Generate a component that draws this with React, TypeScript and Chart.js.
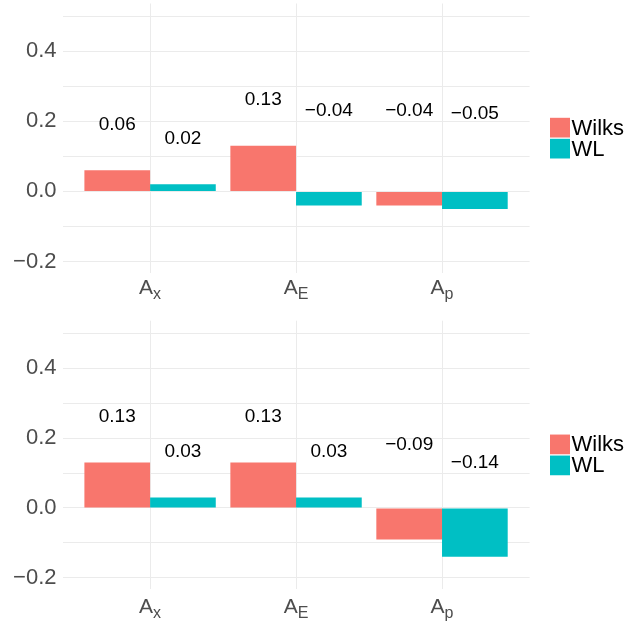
import React, { useEffect, useRef } from 'react';
import { Chart, registerables } from 'chart.js';

Chart.register(...registerables);

// ---- data ----
const categoryMain = ['A', 'A', 'A'];
const categorySubs = ['x', 'E', 'p'];
const seriesNames = ['Wilks', 'WL'];
const seriesColors = ['#F8766D', '#00BFC4'];
const topWilks = [0.06, 0.13, -0.04];
const topWL = [0.02, -0.04, -0.05];
const bottomWilks = [0.13, 0.13, -0.09];
const bottomWL = [0.03, 0.03, -0.14];
const yTicks = [-0.2, -0.1, 0, 0.1, 0.2, 0.3, 0.4, 0.5];
const yLabeled = [-0.2, 0, 0.2, 0.4];

const FONT = '"Liberation Sans", Arial, Helvetica, sans-serif';
const fmt = (v: number, d: number) => {
  if (Math.abs(v) < 1e-9) return (0).toFixed(d);
  const s = Math.abs(v).toFixed(d);
  return v < 0 ? '\u2212' + s : s;
};

type PanelProps = {
  wilks: number[];
  wl: number[];
  height: number;
  padTop: number;
  axisHeight: number;
  labelOffset: number;
};

function Panel({ wilks, wl, height, padTop, axisHeight, labelOffset }: PanelProps) {
  const ref = useRef<HTMLCanvasElement | null>(null);
  useEffect(() => {
    if (!ref.current) return;
    const overlay = {
      id: 'overlay',
      afterDatasetsDraw(chart: any) {
        const ctx = chart.ctx as CanvasRenderingContext2D;
        const ys = chart.scales.y;
        const xs = chart.scales.x;
        const area = chart.chartArea;
        ctx.save();
        // value labels
        ctx.fillStyle = '#000000';
        ctx.font = `19px ${FONT}`;
        ctx.textAlign = 'center';
        ctx.textBaseline = 'middle';
        chart.data.datasets.forEach((ds: any, di: number) => {
          const meta = chart.getDatasetMeta(di);
          ds.data.forEach((pt: any, i: number) => {
            const v = pt.y;
            const el = meta.data[i];
            const ly = ys.getPixelForValue(v + (v >= 0 ? 0.13 : 0.27));
            ctx.fillText(fmt(v, 2), el.x, ly);
          });
        });
        // category labels with subscripts
        ctx.fillStyle = '#4D4D4D';
        ctx.textAlign = 'left';
        ctx.textBaseline = 'alphabetic';
        categoryMain.forEach((m, i) => {
          const cx = xs.getPixelForValue(i + 1);
          ctx.font = `21px ${FONT}`;
          const wm = ctx.measureText(m).width;
          ctx.font = `16px ${FONT}`;
          const wsub = ctx.measureText(categorySubs[i]).width;
          const start = cx - (wm + wsub) / 2;
          const base = area.bottom + labelOffset;
          ctx.font = `21px ${FONT}`;
          ctx.fillText(m, start, base);
          ctx.font = `16px ${FONT}`;
          ctx.fillText(categorySubs[i], start + wm, base + 5);
        });
        // legend
        const cy = (area.top + area.bottom) / 2;
        const keyX = 550;
        const keys = [
          { y: cy - 20.3, h: 19.7 },
          { y: cy + 0.7, h: 19.7 },
        ];
        ctx.font = `22px ${FONT}`;
        ctx.textBaseline = 'middle';
        seriesNames.forEach((n, i) => {
          ctx.fillStyle = seriesColors[i];
          ctx.fillRect(keyX, keys[i].y, 20, keys[i].h);
          ctx.fillStyle = '#000000';
          ctx.fillText(n, keyX + 21.5, keys[i].y + keys[i].h / 2 + 1);
        });
        ctx.restore();
      },
    };
    const chart = new Chart(ref.current, {
      type: 'bar',
      data: {
        datasets: [
          {
            label: seriesNames[0],
            data: wilks.map((v, i) => ({ x: i + 1, y: v })),
            backgroundColor: seriesColors[0],
            borderWidth: 0,
            categoryPercentage: 0.9,
            barPercentage: 1,
          },
          {
            label: seriesNames[1],
            data: wl.map((v, i) => ({ x: i + 1, y: v })),
            backgroundColor: seriesColors[1],
            borderWidth: 0,
            categoryPercentage: 0.9,
            barPercentage: 1,
          },
        ] as any,
      },
      options: {
        animation: false,
        responsive: false,
        devicePixelRatio: 1,
        layout: { padding: { top: padTop, right: 95.4, left: 0, bottom: 0 } },
        plugins: { legend: { display: false }, tooltip: { enabled: false } },
        scales: {
          x: {
            type: 'linear',
            min: 0.4,
            max: 3.6,
            offset: false,
            afterBuildTicks: (s: any) => {
              s.ticks = [1, 2, 3].map((v) => ({ value: v }));
            },
            ticks: { display: false },
            grid: { color: '#EBEBEB', lineWidth: 1, drawTicks: false, offset: false },
            border: { display: false },
            afterFit: (s: any) => {
              s.height = axisHeight;
              s.paddingLeft = 0;
              s.paddingRight = 0;
            },
          },
          y: {
            type: 'linear',
            min: -0.232,
            max: 0.536,
            afterBuildTicks: (s: any) => {
              s.ticks = yTicks.map((v) => ({ value: v }));
            },
            ticks: {
              autoSkip: false,
              padding: 6,
              color: '#4D4D4D',
              font: { family: FONT, size: 22 },
              callback: (v: any) => {
                const n = Number(v);
                return yLabeled.some((t) => Math.abs(t - n) < 1e-6) ? fmt(n, 1) : '';
              },
            },
            grid: { color: '#EBEBEB', lineWidth: 1, drawTicks: false },
            border: { display: false },
            afterFit: (s: any) => {
              s.width = 62.5;
              s.paddingTop = 0;
              s.paddingBottom = 0;
            },
          },
        },
      } as any,
      plugins: [overlay],
    });
    return () => chart.destroy();
  }, [wilks, wl, height, padTop, axisHeight, labelOffset]);
  return <canvas ref={ref} width={625} height={height} style={{ display: 'block', width: 625, height }} />;
}

export default function App() {
  return (
    <div style={{ position: 'absolute', left: 0, top: 0, width: 625, height: 623, background: '#FFFFFF' }}>
      <Panel wilks={topWilks} wl={topWL} height={311} padTop={3.5} axisHeight={38.3} labelOffset={21.6} />
      <Panel wilks={bottomWilks} wl={bottomWL} height={312} padTop={9.7} axisHeight={34} labelOffset={24} />
    </div>
  );
}
